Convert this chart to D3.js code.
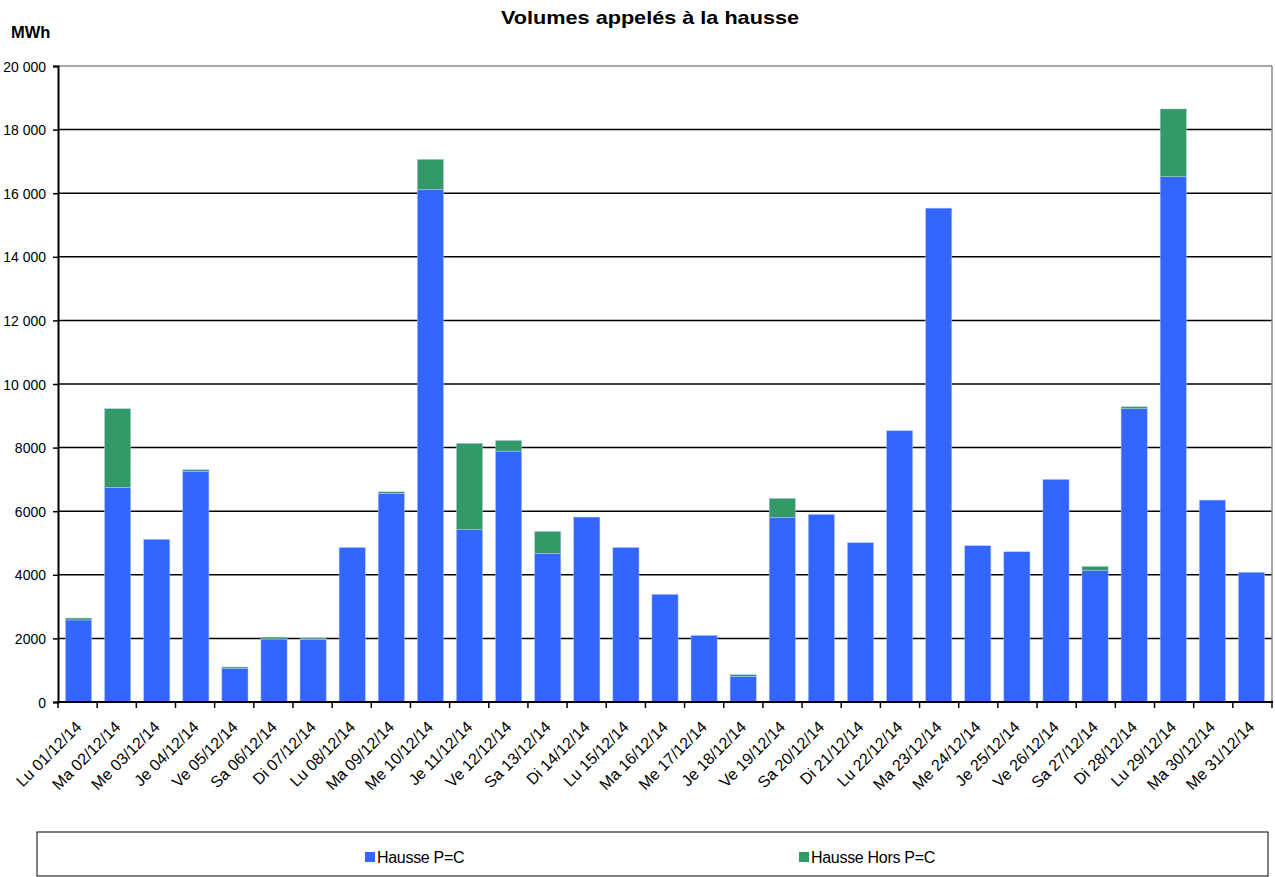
<!DOCTYPE html>
<html><head><meta charset="utf-8">
<script src="https://cdn.jsdelivr.net/npm/d3@7"></script>
<style>
body{margin:0;background:#fff;}
text{font-family:"Liberation Sans",Arial,sans-serif;}
</style></head>
<body>
<svg id="c" width="1275" height="877"></svg>
<script>
const categories = ["Lu 01/12/14","Ma 02/12/14","Me 03/12/14","Je 04/12/14","Ve 05/12/14","Sa 06/12/14","Di 07/12/14","Lu 08/12/14","Ma 09/12/14","Me 10/12/14","Je 11/12/14","Ve 12/12/14","Sa 13/12/14","Di 14/12/14","Lu 15/12/14","Ma 16/12/14","Me 17/12/14","Je 18/12/14","Ve 19/12/14","Sa 20/12/14","Di 21/12/14","Lu 22/12/14","Ma 23/12/14","Me 24/12/14","Je 25/12/14","Ve 26/12/14","Sa 27/12/14","Di 28/12/14","Lu 29/12/14","Ma 30/12/14","Me 31/12/14"];
const haussePC = [2580,6750,5115,7250,1050,1980,1960,4860,6560,16120,5420,7890,4675,5815,4860,3385,2095,805,5805,5900,5010,8530,15530,4915,4725,7000,4130,9225,16520,6350,4080];
const hausseHorsPC = [60,2475,0,55,50,60,50,0,50,945,2715,335,690,0,0,0,0,55,600,0,0,0,0,0,0,0,135,60,2130,0,0];
const yTicks = [0,2000,4000,6000,8000,10000,12000,14000,16000,18000,20000];
const yTickLabels = ["0","2000","4000","6000","8000","10 000","12 000","14 000","16 000","18 000","20 000"];
const seriesNames = ["Hausse P=C","Hausse Hors P=C"];
const seriesColors = ["#3366FF","#339966"];

const svg = d3.select("#c");
const L = 58, R = 1272, T = 66, B = 702;

const x = d3.scaleBand().domain(categories).range([L, R]).paddingInner(0.33).paddingOuter(0.19);
const y = d3.scaleLinear().domain([0, 20000]).range([B, T]);

// title
svg.append("text").attr("x", 501).attr("y", 24)
  .attr("font-size", 19).attr("font-weight", "bold")
  .attr("textLength", 298).attr("lengthAdjust", "spacingAndGlyphs")
  .text("Volumes appelés à la hausse");
svg.append("text").attr("x", 11).attr("y", 38).attr("font-size", 16.5).attr("font-weight", "bold").text("MWh");

// gridlines
svg.append("g").selectAll("line").data(yTicks.filter(d => d > 0)).join("line")
  .attr("x1", L).attr("x2", R).attr("y1", d => y(d)).attr("y2", d => y(d))
  .attr("stroke", d => d === 20000 ? "#888" : "#000").attr("stroke-width", 1.5);
// right border
svg.append("line").attr("x1", R).attr("x2", R).attr("y1", T).attr("y2", B).attr("stroke", "#888").attr("stroke-width", 1.5);

// stacked bars
const rows = categories.map((c, i) => ({cat: c, a: haussePC[i], b: hausseHorsPC[i]}));
const stack = d3.stack().keys(["a", "b"])(rows);
svg.append("g").selectAll("g").data(stack).join("g")
  .attr("fill", (d, i) => seriesColors[i])
  .selectAll("rect").data(d => d).join("rect")
  .attr("x", d => x(d.data.cat)).attr("width", x.bandwidth())
  .attr("y", d => y(d[1])).attr("height", d => Math.max(0, y(d[0]) - y(d[1])))
  .attr("stroke", "#b8c8ff").attr("stroke-width", 0.6).attr("stroke-opacity", 0.8);

// y axis
const yAxis = d3.axisLeft(y).tickValues(yTicks).tickSize(5).tickFormat((d, i) => yTickLabels[i]);
const gy = svg.append("g").attr("transform", `translate(${L},0)`).call(yAxis);
gy.select(".domain").attr("stroke", "#000").attr("stroke-width", 2);
gy.selectAll(".tick line").attr("stroke", "#000").attr("stroke-width", 1.5);
gy.selectAll(".tick text").attr("font-size", 14).attr("font-family", "Liberation Sans, Arial, sans-serif")
  .attr("fill", "#000").attr("x", -12).attr("dy", "0.36em");

// x axis: tick marks at category boundaries
const boundaries = d3.range(categories.length + 1).map(i => L + i * (R - L) / categories.length);
svg.append("g").selectAll("line").data(boundaries).join("line")
  .attr("x1", d => d).attr("x2", d => d).attr("y1", B).attr("y2", B + 6)
  .attr("stroke", "#000").attr("stroke-width", 1.5);
svg.append("line").attr("x1", L - 1).attr("x2", R + 1).attr("y1", B).attr("y2", B).attr("stroke", "#000").attr("stroke-width", 2);

svg.append("g").selectAll("text").data(categories).join("text")
  .attr("transform", d => `translate(${x(d) + x.bandwidth() / 2 + 4},${B + 26}) rotate(-45)`)
  .attr("text-anchor", "end").attr("font-size", 16).text(d => d);

// legend
svg.append("rect").attr("x", 37).attr("y", 832).attr("width", 1231).attr("height", 44)
  .attr("fill", "#fff").attr("stroke", "#000").attr("stroke-width", 1);
const legX = [365, 799];
const lg = svg.append("g").selectAll("g").data(seriesNames).join("g")
  .attr("transform", (d, i) => `translate(${legX[i]},863)`);
lg.append("rect").attr("x", 0).attr("y", -11).attr("width", 10).attr("height", 10).attr("fill", (d, i) => seriesColors[i]);
lg.append("text").attr("x", 12).attr("y", 0).attr("font-size", 16).attr("letter-spacing", "-0.3").text(d => d);
</script>
</body></html>
